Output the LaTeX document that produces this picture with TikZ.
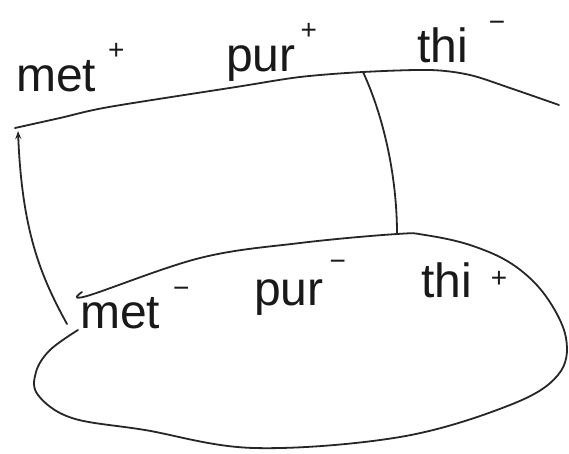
\documentclass[tikz,border=0pt]{standalone}
\usepackage{fontspec}
\setmainfont{Liberation Sans}
\usetikzlibrary{arrows.meta}
\newcommand{\sgn}[2]{\raisebox{#1}{\fontsize{28}{28}\selectfont #2}}
\begin{document}
\begin{tikzpicture}[x=1pt,y=-1pt,
  pen/.style={line width=1.8pt, line cap=round, line join=round, draw=black!85},
  gene/.style={anchor=base west, inner sep=0pt, text=black!90, font=\fontsize{48}{50}\selectfont},
]
\useasboundingbox (0,0) rectangle (569,454);
\fill[white] (0,0) rectangle (569,454);
% named points
\coordinate (tl) at (15,128);
\coordinate (tj) at (363,72);
\coordinate (tr) at (559,105);
\coordinate (bj) at (397,234);
\coordinate (ael) at (67,324);
\coordinate (aeu) at (18,131);
% donor fragment (top line)
\draw[pen] plot[smooth] coordinates {(15,128) (60,118) (109,107) (236,87) (300,77) (363,72) (430,70) (470,75) (510,88) (559,105)};
% recipient chromosome (ellipse)
\draw[pen] plot[smooth, tension=0.6] coordinates {(82,292) (87,296) (200,258) (300,243) (397,234) (425,235) (470,245) (512,264) (545,295) (566,338) (558,375) (510,405) (400,437) (254,448) (145,430) (72,418) (38,395) (36,372) (50,350) (78,330)};
% crossovers
\draw[pen] (tj) .. controls (383,115) and (397,175) .. (bj);
\draw[pen, -{Stealth[length=8pt,width=6pt]}] (ael) .. controls (40,275) and (22,230) .. (aeu);
% labels
\node[gene] (mett) at (16,92) {met\hspace{12pt}\sgn{32pt}{+}};
\node[gene] (purt) at (226,72) {pur\hspace{5pt}\sgn{32pt}{+}};
\node[gene] (thit) at (417,63) {thi\hspace{21pt}\sgn{31pt}{−}};
\node[gene] (metb) at (80,328) {met\hspace{13pt}\sgn{31pt}{−}};
\node[gene] (purb) at (254,305) {pur\hspace{6pt}\sgn{35pt}{−}};
\node[gene] (thib) at (421,297) {thi\hspace{19pt}\sgn{10pt}{+}};
\end{tikzpicture}
\end{document}
